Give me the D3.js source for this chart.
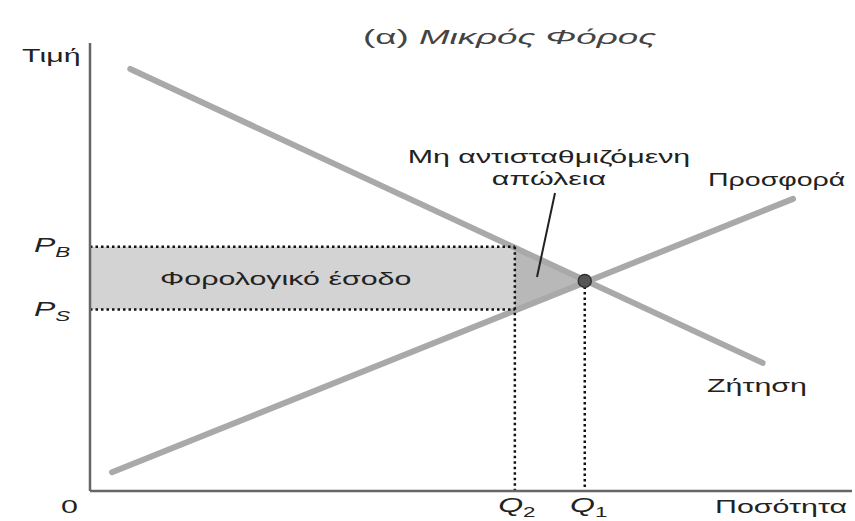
<!DOCTYPE html>
<html>
<head>
<meta charset="utf-8">
<script src="https://cdn.jsdelivr.net/npm/d3@7/dist/d3.min.js"></script>
<style>
  html, body { margin: 0; padding: 0; background: #ffffff; }
  svg { display: block; font-family: "Liberation Sans", Arial, sans-serif; }
</style>
</head>
<body>
<svg id="chart" width="855" height="521"></svg>
<script>
// ---- Data (abstract price/quantity units 0..100) ----
const demand = [{q: 5.3, p: 94.2}, {q: 88.5, p: 28.6}];
const supply = [{q: 2.9, p: 4.2}, {q: 92.5, p: 65.2}];
const equilibrium = {q: 65.1, p: 46.9};
const taxQuantity = 55.9;       // Q2
const buyerPrice = 54.5;        // PB
const sellerPrice = 40.5;       // PS
const titleParts = ["(α)", "Μικρός Φόρος"];
const axisLabels = {y: "Τιμή", x: "Ποσότητα", origin: "0"};
const curveLabels = {demand: "Ζήτηση", supply: "Προσφορά"};
const areaLabels = {revenue: "Φορολογικό έσοδο", deadweight: ["Μη αντισταθμιζόμενη", "απώλεια"]};

const svg = d3.select("#chart");
const x = d3.scaleLinear().domain([0, 100]).range([90, 850]);
const y = d3.scaleLinear().domain([0, 100]).range([491, 43]);
const SX = 1.6; // horizontal stretch of the lettering

// Tax revenue rectangle
svg.append("rect")
  .attr("x", x(0)).attr("y", y(buyerPrice))
  .attr("width", x(taxQuantity) - x(0))
  .attr("height", y(sellerPrice) - y(buyerPrice))
  .attr("fill", "#d3d3d3");

// Deadweight triangle
const tri = [[taxQuantity, buyerPrice], [equilibrium.q, equilibrium.p], [taxQuantity, sellerPrice]];
svg.append("path")
  .attr("d", d3.line().x(d => x(d[0])).y(d => y(d[1]))(tri) + "Z")
  .attr("fill", "#b8b8b8");

// Curves
const line = d3.line().x(d => x(d.q)).y(d => y(d.p));
[demand, supply].forEach(c => {
  svg.append("path").attr("d", line(c))
    .attr("stroke", "#a9a9a9").attr("stroke-width", 6)
    .attr("stroke-linecap", "round").attr("fill", "none");
});

// Dotted guide lines
const dotted = (x1, y1, x2, y2) => svg.append("line")
  .attr("x1", x1).attr("y1", y1).attr("x2", x2).attr("y2", y2)
  .attr("stroke", "#111").attr("stroke-width", 2.5)
  .attr("stroke-dasharray", "2.5,3");
dotted(x(0), y(buyerPrice), x(taxQuantity), y(buyerPrice));
dotted(x(0), y(sellerPrice), x(taxQuantity), y(sellerPrice));
dotted(x(taxQuantity), y(buyerPrice), x(taxQuantity), y(0));
dotted(x(equilibrium.q), y(equilibrium.p), x(equilibrium.q), y(0));

// Axes
svg.append("line").attr("x1", x(0)).attr("y1", y(0)).attr("x2", x(0)).attr("y2", y(100))
  .attr("stroke", "#666").attr("stroke-width", 2.5);
svg.append("line").attr("x1", x(0)).attr("y1", y(0)).attr("x2", 852).attr("y2", y(0))
  .attr("stroke", "#666").attr("stroke-width", 2.5);

// Equilibrium dot
svg.append("circle").attr("cx", x(equilibrium.q)).attr("cy", y(equilibrium.p)).attr("r", 6.5)
  .attr("fill", "#555").attr("stroke", "#333").attr("stroke-width", 1.5);

// Leader line for deadweight
svg.append("line").attr("x1", 555).attr("y1", 193).attr("x2", 537).attr("y2", 277)
  .attr("stroke", "#222").attr("stroke-width", 2);

// Stretched text helper
const stretched = (px, py, sx = SX) => svg.append("g")
  .attr("transform", `translate(${px},${py}) scale(${sx},1)`);
const txt = (t, px, py, opts = {}) => stretched(px, py, opts.sx || SX).append("text")
  .attr("font-size", opts.size || 19)
  .attr("fill", opts.fill || "#222")
  .attr("text-anchor", opts.anchor || "start")
  .attr("font-style", opts.italic ? "italic" : "normal")
  .text(t);

// Title
const title = stretched(363, 44, 1.75).append("text").attr("font-size", 21).attr("fill", "#444");
title.append("tspan").text(titleParts[0] + "  ");
title.append("tspan").attr("font-style", "italic").text(titleParts[1]);

txt(axisLabels.y, 22, 62);
txt(axisLabels.origin, 61, 513);
txt(axisLabels.x, 715, 513);

// Q labels
const qLabel = (px, sub) => {
  const t = stretched(px, 512).append("text").attr("font-size", 20)
    .attr("font-style", "italic").attr("text-anchor", "middle").attr("fill", "#222");
  t.append("tspan").text("Q");
  t.append("tspan").attr("font-size", 14).attr("dy", 5).attr("font-style", "normal").text(sub);
};
qLabel(x(taxQuantity) + 2, "2");
qLabel(x(equilibrium.q) + 4, "1");

// P labels
const pLabel = (py, sub) => {
  const t = stretched(34, py).append("text").attr("font-size", 20)
    .attr("font-style", "italic").attr("fill", "#222");
  t.append("tspan").text("P");
  t.append("tspan").attr("font-size", 14).attr("dy", 5).text(sub);
};
pLabel(y(buyerPrice) + 5, "B");
pLabel(y(sellerPrice) + 6, "S");

txt(areaLabels.revenue, 160, 285);
txt(areaLabels.deadweight[0], 549, 163, {anchor: "middle"});
txt(areaLabels.deadweight[1], 549, 185, {anchor: "middle"});

txt(curveLabels.supply, 708, 186, {sx: 1.5});
txt(curveLabels.demand, 757, 392, {anchor: "middle"});
</script>
</body>
</html>
